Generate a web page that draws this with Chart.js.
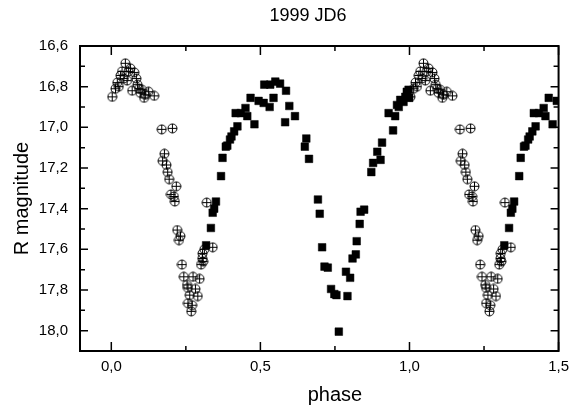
<!DOCTYPE html>
<html>
<head>
<meta charset="utf-8">
<script src="https://cdn.jsdelivr.net/npm/chart.js@4.4.1/dist/chart.umd.min.js"></script>
<style>
  html, body { margin: 0; padding: 0; background: #fff; }
  canvas { display: block; }
</style>
</head>
<body>
<canvas id="lc" width="576" height="410"></canvas>
<script>
// first night (circles with cross), phase 0..1
const circPhase = [0.003, 0.014, 0.020, 0.025, 0.031, 0.036, 0.042, 0.047, 0.053, 0.058,
    0.064, 0.070, 0.077, 0.084, 0.088, 0.093, 0.097, 0.103, 0.110, 0.114,
    0.125, 0.144, 0.169, 0.205, 0.172, 0.178, 0.185, 0.189, 0.194, 0.218,
    0.200, 0.210, 0.213, 0.221, 0.232, 0.227, 0.237, 0.243, 0.274, 0.296,
    0.254, 0.257, 0.282, 0.263, 0.290, 0.257, 0.271, 0.268, 0.301, 0.305,
    0.306, 0.312, 0.340, 0.320, 0.308];
const circMag = [16.85, 16.81, 16.78, 16.80, 16.745, 16.725, 16.76, 16.685, 16.77, 16.725,
    16.71, 16.82, 16.73, 16.76, 16.79, 16.81, 16.83, 16.815, 16.855, 16.84,
    16.825, 16.845, 17.01, 17.005, 17.165, 17.13, 17.185, 17.22, 17.255, 17.29,
    17.33, 17.34, 17.365, 17.505, 17.535, 17.555, 17.675, 17.735, 17.735, 17.745,
    17.775, 17.79, 17.795, 17.825, 17.83, 17.865, 17.875, 17.905, 17.675, 17.645,
    17.62, 17.60, 17.59, 17.37, 17.66];

// second night (filled squares), phase 0..1
const sqPhase = [0.318, 0.334, 0.340, 0.345, 0.351, 0.368, 0.373, 0.384, 0.389, 0.398,
    0.403, 0.412, 0.423, 0.417, 0.434, 0.450, 0.456, 0.480, 0.467, 0.494,
    0.511, 0.531, 0.544, 0.513, 0.533, 0.550, 0.566, 0.586, 0.597, 0.616,
    0.583, 0.654, 0.649, 0.663, 0.693, 0.699, 0.707, 0.715, 0.726, 0.737,
    0.748, 0.755, 0.792, 0.763, 0.787, 0.801, 0.809, 0.820, 0.823, 0.833,
    0.836, 0.848, 0.872, 0.878, 0.892, 0.903, 0.908, 0.930, 0.945, 0.952,
    0.958, 0.964, 0.969, 0.980, 0.986, 0.991, 0.997, 0.999];
const sqMag = [17.58, 17.495, 17.42, 17.40, 17.365, 17.24, 17.15, 17.095, 17.09, 17.06,
    17.045, 17.02, 16.995, 16.93, 16.93, 16.905, 16.945, 16.985, 16.855, 16.87,
    16.88, 16.90, 16.855, 16.79, 16.79, 16.775, 16.785, 16.82, 16.895, 16.945,
    16.975, 17.055, 17.095, 17.155, 17.355, 17.425, 17.59, 17.685, 17.69, 17.795,
    17.82, 17.825, 17.83, 18.005, 17.71, 17.74, 17.645, 17.625, 17.56, 17.475,
    17.415, 17.405, 17.22, 17.175, 17.12, 17.16, 17.075, 16.93, 17.015, 16.945,
    16.89, 16.90, 16.865, 16.875, 16.85, 16.825, 16.815, 16.855];

const xTicks = [0, 0.5, 1.0, 1.5];
const xTickLabels = ['0,0', '0,5', '1,0', '1,5'];
const xMinor = [0.25, 0.75, 1.25];
const yTicks = [16.6, 16.8, 17.0, 17.2, 17.4, 17.6, 17.8, 18.0];
const yTickLabels = ['16,6', '16,8', '17,0', '17,2', '17,4', '17,6', '17,8', '18,0'];
const yMinor = [16.7, 16.9, 17.1, 17.3, 17.5, 17.7, 17.9];

const FONT = '"Liberation Sans", Arial, sans-serif';

// phase-folded plot: the 0..0.5 part is shown again after phase 1
function folded(phases, mags) {
    const pts = phases.map((p, i) => ({x: p, y: mags[i]}));
    phases.forEach((p, i) => {
        if (p + 1 <= 1.5) pts.push({x: p + 1, y: mags[i]});
    });
    return pts;
}

function circlePlus() {
    const c = document.createElement('canvas');
    c.width = 11;
    c.height = 11;
    const g = c.getContext('2d');
    g.strokeStyle = '#000';
    g.lineWidth = 1;
    g.beginPath();
    g.arc(5.5, 5.5, 4.5, 0, Math.PI * 2);
    g.stroke();
    g.beginPath();
    g.moveTo(1, 5.5); g.lineTo(10, 5.5);
    g.moveTo(5.5, 1); g.lineTo(5.5, 10);
    g.stroke();
    return c;
}

// box round the plot, ticks pointing inwards, title and x title
const frame = {
    id: 'frame',
    afterDraw(chart) {
        const {ctx, chartArea: a, scales: {x, y}} = chart;
        ctx.save();
        ctx.strokeStyle = '#000';
        ctx.lineWidth = 1.5;
        ctx.beginPath();
        const xt = (vals, len) => vals.forEach(v => {
            const px = x.getPixelForValue(v);
            ctx.moveTo(px, a.bottom); ctx.lineTo(px, a.bottom - len);
            ctx.moveTo(px, a.top); ctx.lineTo(px, a.top + len);
        });
        const yt = (vals, len) => vals.forEach(v => {
            const py = y.getPixelForValue(v);
            ctx.moveTo(a.left, py); ctx.lineTo(a.left + len, py);
            ctx.moveTo(a.right, py); ctx.lineTo(a.right - len, py);
        });
        xt(xTicks, 9);
        xt(xMinor, 5);
        yt(yTicks, 8);
        yt(yMinor, 5);
        ctx.stroke();
        ctx.lineWidth = 2;
        ctx.strokeRect(a.left, a.top, a.right - a.left, a.bottom - a.top);

        ctx.fillStyle = '#000';
        ctx.textAlign = 'center';
        ctx.textBaseline = 'middle';
        ctx.font = '18px ' + FONT;
        ctx.fillText('1999 JD6', x.getPixelForValue(0.66), 16);
        ctx.font = '20px ' + FONT;
        ctx.fillText('phase', x.getPixelForValue(0.75), 395);
        ctx.restore();
    }
};

new Chart(document.getElementById('lc'), {
    type: 'scatter',
    data: {
        datasets: [
            {
                label: 'squares',
                data: folded(sqPhase, sqMag),
                pointStyle: 'rect',
                pointRadius: 5.4,
                borderWidth: 0.5,
                borderColor: '#000',
                backgroundColor: '#000',
                order: 1
            },
            {
                label: 'circles',
                data: folded(circPhase, circMag),
                pointStyle: circlePlus(),
                pointRadius: 5,
                order: 2
            }
        ]
    },
    options: {
        responsive: false,
        animation: false,
        devicePixelRatio: 1,
        layout: {
            padding: {top: 46, right: 11.5, left: 0, bottom: 0}
        },
        plugins: {
            legend: {display: false},
            tooltip: {enabled: false}
        },
        scales: {
            x: {
                type: 'linear',
                min: -0.105,
                max: 1.5,
                grid: {display: false, drawTicks: false},
                border: {display: false},
                ticks: {
                    padding: 7,
                    color: '#000',
                    font: {family: FONT, size: 15},
                    callback: (v, i) => xTickLabels[i]
                },
                afterBuildTicks: s => { s.ticks = xTicks.map(v => ({value: v})); },
                afterFit: s => { s.height = 59; }
            },
            y: {
                reverse: true,
                min: 16.6,
                max: 18.1,
                grid: {display: false, drawTicks: false},
                border: {display: false},
                ticks: {
                    padding: 12,
                    color: '#000',
                    font: {family: FONT, size: 15},
                    callback: (v, i) => yTickLabels[i]
                },
                afterBuildTicks: s => { s.ticks = yTicks.map(v => ({value: v})); },
                afterFit: s => { s.width = 80; },
                title: {
                    display: true,
                    text: 'R magnitude',
                    color: '#000',
                    font: {family: FONT, size: 20},
                    padding: {top: 10, bottom: 0}
                }
            }
        }
    },
    plugins: [frame]
});
</script>
</body>
</html>
